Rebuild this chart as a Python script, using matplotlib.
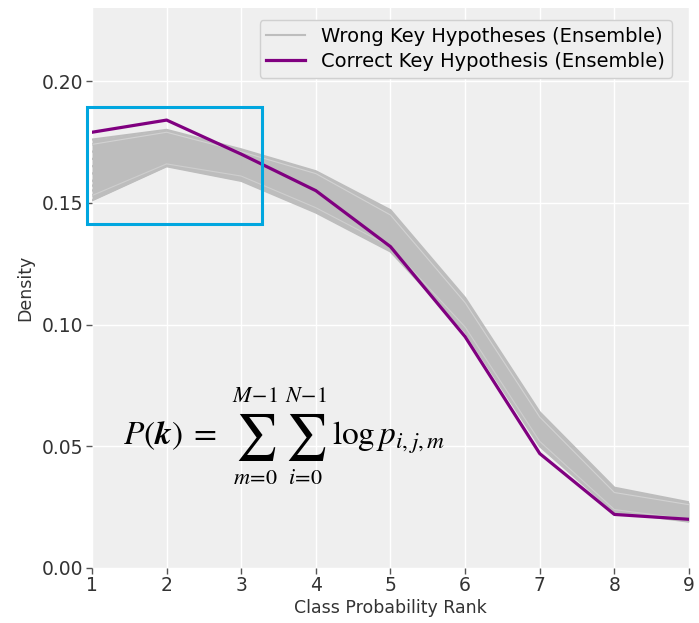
import numpy as np
import matplotlib
matplotlib.use("Agg")
import matplotlib.pyplot as plt
from matplotlib.patches import Rectangle

# Klassen-Rang 1..9
ranks = [1, 2, 3, 4, 5, 6, 7, 8, 9]

# richtige Schlüsselhypothese
correct_key = [0.179, 0.184, 0.170, 0.155, 0.132, 0.095, 0.047, 0.022, 0.020]

# falsche Schlüsselhypothesen (Auswahl aus dem Ensemble)
wrong_01 = [0.176, 0.180, 0.172, 0.163, 0.147, 0.111, 0.064, 0.033, 0.027]
wrong_02 = [0.174, 0.179, 0.171, 0.162, 0.145, 0.109, 0.062, 0.031, 0.026]
wrong_03 = [0.171, 0.178, 0.169, 0.160, 0.143, 0.107, 0.060, 0.030, 0.025]
wrong_04 = [0.168, 0.177, 0.168, 0.158, 0.141, 0.105, 0.059, 0.029, 0.024]
wrong_05 = [0.165, 0.175, 0.167, 0.157, 0.140, 0.104, 0.058, 0.028, 0.024]
wrong_06 = [0.162, 0.174, 0.166, 0.155, 0.138, 0.103, 0.057, 0.028, 0.023]
wrong_07 = [0.159, 0.172, 0.165, 0.153, 0.137, 0.102, 0.056, 0.027, 0.023]
wrong_08 = [0.157, 0.170, 0.164, 0.152, 0.135, 0.101, 0.055, 0.026, 0.022]
wrong_09 = [0.155, 0.168, 0.162, 0.150, 0.134, 0.100, 0.054, 0.025, 0.021]
wrong_10 = [0.153, 0.166, 0.161, 0.148, 0.132, 0.099, 0.052, 0.024, 0.020]
wrong_11 = [0.151, 0.165, 0.159, 0.146, 0.130, 0.097, 0.050, 0.023, 0.019]

wrong_keys = np.array([wrong_01, wrong_02, wrong_03, wrong_04, wrong_05, wrong_06,
                       wrong_07, wrong_08, wrong_09, wrong_10, wrong_11])

plt.rcParams['mathtext.fontset'] = 'stix'
plt.rcParams['font.family'] = ['DejaVu Sans']

fig = plt.figure(figsize=(6.99, 6.23), dpi=100)
ax = fig.add_axes([0.1316, 0.0883, 0.8541, 0.8987])
ax.set_facecolor('#efefef')
for s in ax.spines.values():
    s.set_visible(False)
ax.grid(True, color='white', linewidth=1.0)
ax.set_axisbelow(True)

gray = '#bdbdbd'
ax.fill_between(ranks, wrong_keys.min(axis=0), wrong_keys.max(axis=0),
                color=gray, linewidth=0, zorder=2)
for i, row in enumerate(wrong_keys):
    ax.plot(ranks, row, color=gray, linewidth=1.5, zorder=2,
            label="Wrong Key Hypotheses (Ensemble)" if i == 0 else None)
# ein paar hellere Einzelkurven
ax.plot(ranks, wrong_02, color='#d2d2d2', linewidth=0.8, zorder=2)
ax.plot(ranks, wrong_10, color='#cecece', linewidth=0.8, zorder=2)

ax.plot(ranks, correct_key, color='#800080', linewidth=2.3, zorder=3,
        label="Correct Key Hypothesis (Ensemble)")

ax.set_xlim(1, 9)
ax.set_ylim(0, 0.23)
ax.set_xticks(ranks)
ax.set_yticks([0.0, 0.05, 0.10, 0.15, 0.20])
ax.set_yticklabels(["0.00", "0.05", "0.10", "0.15", "0.20"])
ax.tick_params(axis='both', labelsize=13.5, labelcolor='#333333', color='#555555',
               length=4, width=1, direction='out', pad=2)
ax.set_xlabel("Class Probability Rank", fontsize=12.5, color='#333333', labelpad=3)
ax.set_ylabel("Density", fontsize=12.5, color='#333333', labelpad=6)

leg = ax.legend(loc='upper right', fontsize=14, frameon=True, fancybox=True,
                borderpad=0.35, handlelength=2.0, handletextpad=0.8,
                labelspacing=0.3, bbox_to_anchor=(0.987, 0.996))
leg.get_frame().set_facecolor('#efefef')
leg.get_frame().set_edgecolor('#d0d0d0')
leg.get_frame().set_alpha(1.0)

# Formel, zusammengesetzt damit die Summen gross (display style) wirken
anchor = (1.4155, 0.0507)
px = 72.0 / fig.dpi


def formel_teil(txt, dx, dy, size, ha='left', va='baseline'):
    ax.annotate(txt, xy=anchor, xycoords='data', xytext=(dx * px, dy * px),
                textcoords='offset points', fontsize=size, ha=ha, va=va,
                color='black', zorder=6)


formel_teil(r"$P(\boldsymbol{k})\;=$", 0, 0, 24)
formel_teil(r"$\sum$", 133, 8, 33, ha='center', va='center')
formel_teil(r"$M\!-\!1$", 132, 49, 16, ha='center', va='center')
formel_teil(r"$m\!=\!0$", 132, -33, 16, ha='center', va='center')
formel_teil(r"$\sum$", 183, 8, 33, ha='center', va='center')
formel_teil(r"$N\!-\!1$", 183, 49, 16, ha='center', va='center')
formel_teil(r"$i\!=\!0$", 183, -33, 16, ha='center', va='center')
formel_teil(r"$\log p_{i,j,m}$", 209, 0, 24)

# markierter Bereich
ax.add_patch(Rectangle((0.933, 0.1414), 2.347, 0.0478, fill=False,
                       edgecolor='#00a6df', linewidth=2.2, clip_on=False, zorder=5))

fig.savefig("out.png", dpi=100)
